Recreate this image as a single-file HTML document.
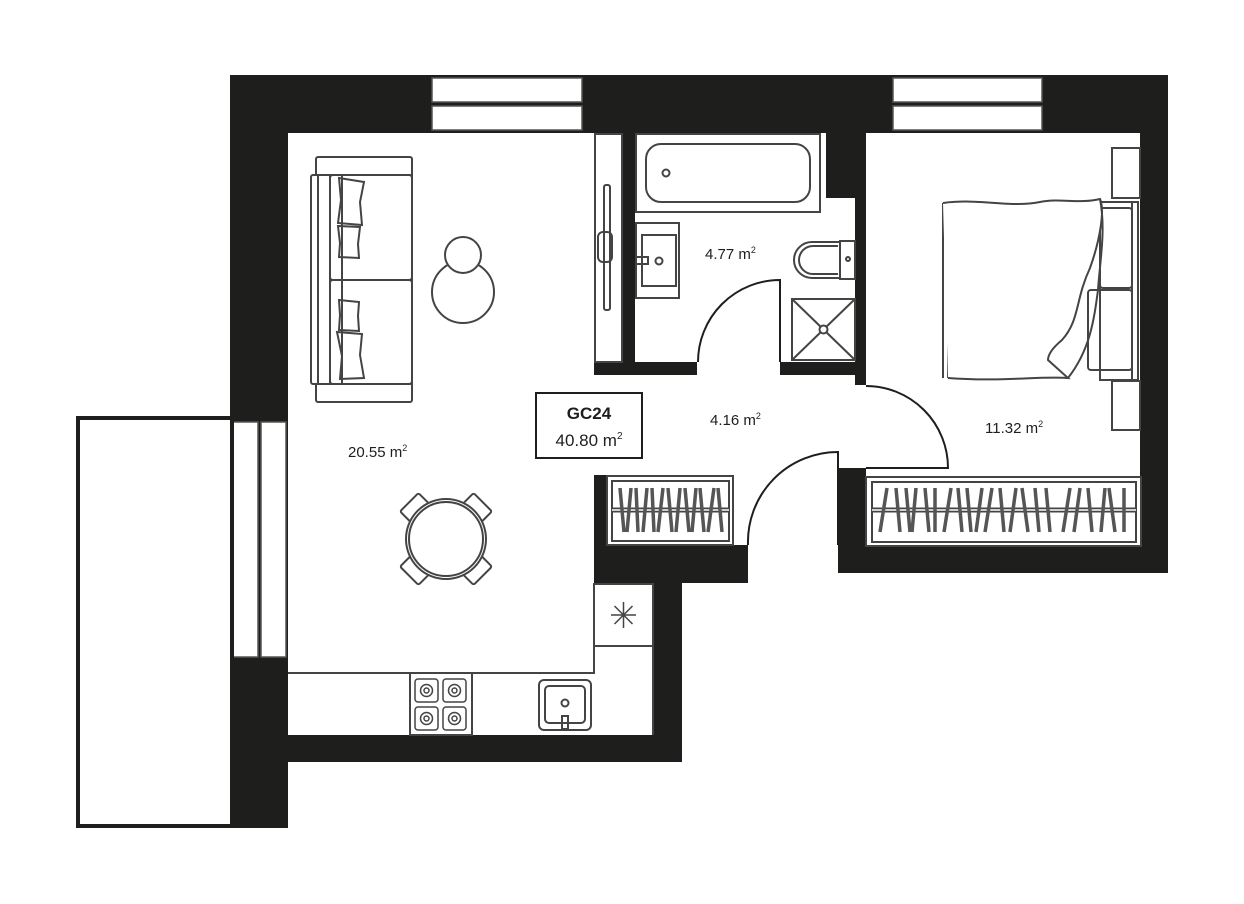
<!DOCTYPE html>
<html><head><meta charset="utf-8"><style>
html,body{margin:0;padding:0;background:#fff}
svg{display:block}
text{font-family:"Liberation Sans",sans-serif;fill:#1e1e1c}
</style></head><body>
<svg width="1244" height="904" viewBox="0 0 1244 904" xmlns="http://www.w3.org/2000/svg">
<g fill="#1e1e1c">
<!-- top wall -->
<rect x="230" y="75" width="938" height="58"/>
<!-- left wall -->
<rect x="230" y="75" width="58" height="753"/>
<!-- right wall -->
<rect x="1140" y="75" width="28" height="498"/>
<!-- bottom right wall -->
<rect x="838" y="545" width="330" height="28"/>
<!-- bedroom left wall -->
<rect x="826" y="133" width="40" height="65"/>
<rect x="855" y="133" width="11" height="252"/>
<rect x="838" y="468" width="28" height="105"/>
<!-- bathroom bottom walls -->
<rect x="594" y="362" width="103" height="13"/>
<rect x="780" y="362" width="86" height="13"/>
<rect x="622" y="133" width="13" height="242"/>
<!-- hall lower -->
<rect x="594" y="475" width="12" height="108"/>
<rect x="594" y="545" width="154" height="38"/>
<rect x="654" y="545" width="28" height="217"/>
<!-- kitchen bottom -->
<rect x="230" y="735" width="452" height="27"/>
</g>
<g fill="#fff" stroke="#555" stroke-width="1.5">
<!-- windows -->
<rect x="432" y="78" width="150" height="24"/>
<rect x="432" y="106" width="150" height="24"/>
<rect x="893" y="78" width="149" height="24"/>
<rect x="893" y="106" width="149" height="24"/>
<rect x="233" y="422" width="25" height="235"/>
<rect x="261" y="422" width="25" height="235"/>
</g>
<!-- balcony -->
<rect x="78" y="418" width="154" height="408" fill="#fff" stroke="#1e1e1c" stroke-width="4"/>
<g fill="none" stroke="#444" stroke-width="2">
<!-- closet living -->
<rect x="595" y="134" width="27" height="228" fill="#fff"/>
<rect x="604" y="185" width="6" height="125" rx="2"/>
<rect x="598" y="232" width="14" height="30" rx="5"/>
<!-- sofa -->
<rect x="316" y="157" width="96" height="245" rx="2"/>
<rect x="311" y="175" width="101" height="209" rx="2" fill="#fff"/>
<line x1="318" y1="175" x2="318" y2="384"/>
<line x1="330" y1="175" x2="330" y2="384"/>
<path d="M330 175 V384 M342 175 V384 M342 280 H412"/>
<rect x="330" y="175" width="82" height="105" rx="3"/>
<rect x="330" y="280" width="82" height="104" rx="3"/>
<path d="M339 178 L364 182 L360 202 L362 225 L338 223 L341 200 Z"/>
<path d="M338 226 L360 227 L358 244 L359 258 L339 257 L340 243 Z"/>
<path d="M339 300 L359 302 L358 316 L359 331 L339 330 L340 315 Z"/>
<path d="M337 332 L362 334 L360 355 L364 378 L340 379 L342 356 Z"/>
<!-- side table -->
<circle cx="463" cy="292" r="31"/>
<circle cx="463" cy="255" r="18" fill="#fff"/>
<!-- dining -->
<g transform="translate(446,539)">
<g transform="rotate(45)"><rect x="-13" y="-52" width="26" height="18" rx="2"/></g>
<g transform="rotate(-45)"><rect x="-13" y="-52" width="26" height="18" rx="2"/></g>
<g transform="rotate(135)"><rect x="-13" y="-52" width="26" height="18" rx="2"/></g>
<g transform="rotate(-135)"><rect x="-13" y="-52" width="26" height="18" rx="2"/></g>
<circle r="40" fill="#fff"/>
<circle r="37"/>
</g>
<!-- kitchen -->
<path d="M288 673 H594 V584 H653 V735" />
<rect x="594" y="584" width="59" height="62" fill="#fff"/>
<path d="M611 615 H636 M623.5 602 V628 M614.5 606 L632.5 624 M632.5 606 L614.5 624" stroke-width="1.5"/>
<rect x="410" y="673" width="62" height="62"/>
<g stroke-width="1.5">
<rect x="415" y="679" width="23" height="23" rx="3"/><circle cx="426.5" cy="690.5" r="6"/><circle cx="426.5" cy="690.5" r="2.5"/>
<rect x="443" y="679" width="23" height="23" rx="3"/><circle cx="454.5" cy="690.5" r="6"/><circle cx="454.5" cy="690.5" r="2.5"/>
<rect x="415" y="707" width="23" height="23" rx="3"/><circle cx="426.5" cy="718.5" r="6"/><circle cx="426.5" cy="718.5" r="2.5"/>
<rect x="443" y="707" width="23" height="23" rx="3"/><circle cx="454.5" cy="718.5" r="6"/><circle cx="454.5" cy="718.5" r="2.5"/>
</g>
<rect x="539" y="680" width="52" height="50" rx="5"/>
<rect x="545" y="686" width="40" height="37" rx="4"/>
<circle cx="565" cy="703" r="3.5"/>
<rect x="562" y="716" width="6" height="13"/>
<!-- bath -->
<rect x="636" y="134" width="184" height="78" fill="#fff"/>
<rect x="646" y="144" width="164" height="58" rx="15"/>
<circle cx="666" cy="173" r="3.5"/>
<rect x="636" y="223" width="43" height="75"/>
<rect x="642" y="235" width="34" height="51"/>
<circle cx="659" cy="261" r="3.5"/>
<path d="M636 257 H648 V264 H636"/>
<!-- toilet -->
<rect x="840" y="241" width="15" height="38"/>
<circle cx="848" cy="259" r="2"/>
<path d="M840 242 H812 A18 18 0 0 0 812 278 H840"/>
<path d="M838 246 H813 A13 13 0 0 0 813 274 H838"/>
<!-- shower -->
<rect x="792" y="299" width="63" height="61"/>
<path d="M792 299 L855 360 M855 299 L792 360"/>
<circle cx="823.5" cy="329.5" r="4" fill="#fff"/>
<!-- bedroom -->
<rect x="1112" y="148" width="28" height="50"/>
<rect x="1112" y="381" width="28" height="49"/>
<rect x="1100" y="202" width="38" height="178"/>
<rect x="1132" y="202" width="6" height="178"/>
<rect x="1100" y="208" width="32" height="80" rx="3"/>
<rect x="1088" y="290" width="44" height="80" rx="3"/>
<path d="M943 203 V378 M948 203 V378"/>
<path d="M943 203 C980 198 1010 208 1040 202 C1060 198 1080 204 1100 199 C1105 210 1100 240 1090 268 C1075 300 1080 320 1062 340 C1050 350 1048 356 1048 360 L1068 378 C1040 376 1000 382 948 378" fill="#fff"/>
<path d="M1100 199 C1106 230 1100 260 1098 290 C1094 320 1090 350 1068 378"/>
<!-- wardrobes -->
<rect x="607" y="476" width="126" height="69"/>
<rect x="612" y="481" width="117" height="60"/>
<rect x="866" y="477" width="275" height="69"/>
<rect x="872" y="482" width="264" height="60"/>
</g>
<path d="M612 510 H729 M872 510 H1136" stroke="#444" stroke-width="5"/>
<path d="M612 510 H729 M872 510 H1136" stroke="#fff" stroke-width="1.5"/>
<g stroke="#555" stroke-width="3.5" fill="none">
<path d="M620 488 L624 532 M631 488 L627 532 M636 488 L638 532 M647 488 L643 532 M652 488 L654 532 M663 488 L658 532 M668 488 L672 532 M680 488 L676 532 M685 488 L689 532 M696 488 L692 532 M700 488 L704 532 M714 488 L708 532 M718 488 L722 532"/>
<path d="M887 488 L880 532 M896 488 L900 532 M906 488 L910 532 M916 488 L912 532 M925 488 L929 532 M935 488 L935 532 M951 488 L944 532 M958 488 L962 532 M967 488 L971 532 M982 488 L976 532 M992 488 L985 532 M1000 488 L1004 532 M1016 488 L1010 532 M1022 488 L1028 532 M1035 488 L1039 532 M1046 488 L1050 532 M1070 488 L1063 532 M1080 488 L1074 532 M1088 488 L1092 532 M1105 488 L1101 532 M1109 488 L1115 532 M1124 488 L1124 532"/>
</g>
<!-- doors -->
<g fill="none" stroke="#1e1e1c" stroke-width="2">
<path d="M780 362 V280 A82 82 0 0 0 698 362"/>
<path d="M866 468 H948 A82 82 0 0 0 866 386"/>
<path d="M838 545 V452 A90 90 0 0 0 748 545"/>
</g>
<!-- label -->
<rect x="536" y="393" width="106" height="65" fill="#fff" stroke="#1e1e1c" stroke-width="2"/>
<text x="589" y="419" font-size="17" font-weight="bold" text-anchor="middle">GC24</text>
<text x="589" y="446" font-size="17" text-anchor="middle">40.80 m<tspan font-size="10" dy="-7">2</tspan></text>
<text x="705" y="259" font-size="15">4.77 m<tspan font-size="9" dy="-6">2</tspan></text>
<text x="710" y="425" font-size="15">4.16 m<tspan font-size="9" dy="-6">2</tspan></text>
<text x="985" y="433" font-size="15">11.32 m<tspan font-size="9" dy="-6">2</tspan></text>
<text x="348" y="457" font-size="15">20.55 m<tspan font-size="9" dy="-6">2</tspan></text>
</svg>
</body></html>
